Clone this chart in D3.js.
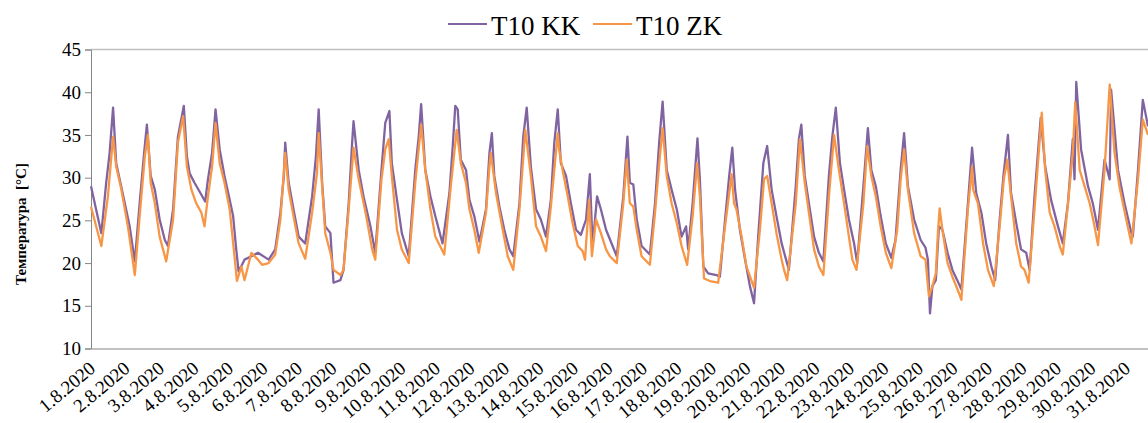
<!DOCTYPE html>
<head>
  <meta charset="utf-8">
  <script src="https://d3js.org/d3.v7.min.js"></script>
  <style>
    body { margin:0; background:#fff; }
  </style>
</head>
<body>
<script>
  // days since 1.8.2020 00:00 and temperature [°C]
  var tKK = [0,0.30,0.44,0.54,0.64,0.73,0.83,0.98,1.12,1.27,1.41,1.54,1.62,1.73,1.85,1.99,2.14,2.23,2.38,2.52,2.69,2.78,2.86,3.00,3.20,3.31,3.39,3.51,3.61,3.73,3.87,4.02,4.12,4.21,4.28,4.45,4.65,4.84,
    5.15,5.34,5.49,5.59,5.63,5.73,5.87,6.02,6.21,6.41,6.52,6.60,6.70,6.79,6.94,7.03,7.23,7.32,7.47,7.57,7.61,7.76,7.90,8.10,8.24,8.42,8.53,8.65,8.72,8.87,9.01,9.21,9.40,9.50,9.57,9.69,9.84,9.98,
    10.19,10.39,10.48,10.56,10.63,10.72,10.87,10.97,11.11,11.26,11.45,11.55,11.62,11.69,11.84,11.98,12.13,12.24,12.42,12.53,12.63,12.75,12.90,13.04,13.19,13.33,13.43,13.53,13.62,13.77,13.91,14.06,14.20,14.35,14.46,14.54,14.67,14.78,14.93,
    15.24,15.43,15.55,15.62,15.72,15.82,15.96,16.20,16.35,16.47,16.57,16.69,16.83,16.98,17.12,17.25,17.31,17.44,17.58,17.65,17.75,17.89,18.13,18.23,18.38,18.50,18.59,18.67,18.81,18.96,19.10,19.22,19.34,19.49,19.60,19.73,19.87,20.02,
    20.23,20.43,20.52,20.59,20.69,20.81,20.96,21.10,21.23,21.39,21.49,21.59,21.71,21.83,21.97,22.12,22.21,22.39,22.52,22.62,22.75,22.89,23.04,23.20,23.32,23.47,23.57,23.68,23.86,24.05,24.19,24.26,24.32,24.39,24.49,24.58,24.68,24.83,24.97,25.11,
    25.23,25.42,25.54,25.66,25.81,25.95,26.10,26.21,26.34,26.45,26.58,26.67,26.82,26.96,27.11,27.21,27.35,27.53,27.66,27.83,28.03,28.17,28.32,28.46,28.51,28.56,28.70,28.90,29.04,29.19,29.38,29.53,29.57,29.62,29.77,29.96,30.16,30.20,30.35,30.49,30.64]
  var kk = [29.0,23.5,29.4,32.9,38.2,31.7,29.8,27.0,24.3,20.2,27.0,32.9,36.2,30.2,28.6,25.1,22.7,22.0,26.3,34.8,38.4,32.5,30.5,29.4,28.0,27.2,29.8,32.9,38.0,33.3,30.2,27.4,25.5,21.6,19.0,20.4,20.8,21.2,
    20.4,21.6,25.9,30.2,34.1,29.4,26.3,23.1,22.3,27.8,32.5,38.0,29.4,24.3,23.5,17.7,18.0,19.2,27.0,34.1,36.6,30.9,27.8,24.3,21.2,30.9,36.4,37.8,31.7,27.4,23.5,20.8,30.9,34.8,38.6,30.9,27.8,25.5,
    22.3,28.2,33.3,38.4,38.0,32.1,30.9,27.4,25.5,22.5,26.3,32.9,35.2,30.2,26.6,23.9,21.6,20.8,27.0,34.8,38.2,31.3,26.3,25.1,23.1,27.4,34.1,38.0,31.7,30.2,27.0,23.9,23.3,25.1,30.4,22.0,27.8,26.3,23.9,
    20.8,27.8,34.8,29.4,29.2,25.1,22.0,21.0,27.0,34.1,38.9,30.9,28.6,26.3,23.1,24.3,21.6,27.0,34.6,29.8,19.6,18.8,18.6,18.4,25.1,30.2,33.5,28.6,23.9,20.4,17.3,15.3,23.1,31.7,33.7,28.6,25.5,22.3,
    19.2,29.0,34.5,36.2,30.2,27.0,23.1,21.2,20.2,30.2,34.8,38.2,31.7,28.6,25.1,22.3,20.0,29.0,35.8,30.9,29.0,25.5,22.3,20.6,22.7,30.9,35.2,29.0,25.1,22.7,21.8,20.4,14.1,17.3,18.0,24.3,23.9,21.2,19.2,18.0,
    16.9,27.0,33.5,28.2,25.9,22.3,19.6,18.0,25.1,30.2,35.0,28.2,24.7,21.6,21.2,19.2,27.8,37.0,31.3,27.4,24.3,22.3,27.0,34.5,29.8,41.2,33.3,29.0,27.0,23.9,32.1,29.8,40.3,38.0,30.9,27.0,23.5,23.1,30.9,39.1,36.0]

  var tZK = [0.00,0.30,0.49,0.64,0.73,0.88,1.07,1.27,1.41,1.56,1.65,1.73,1.85,1.99,2.18,2.38,2.52,2.67,2.78,2.91,3.05,3.20,3.29,3.39,3.51,3.61,3.73,3.87,4.02,4.16,4.23,4.36,4.45,4.65,4.84,
    4.96,5.15,5.34,5.49,5.63,5.73,5.87,6.02,6.21,6.41,6.55,6.60,6.70,6.79,6.94,7.03,7.23,7.32,7.47,7.61,7.76,7.96,8.15,8.24,8.42,8.53,8.63,8.72,8.87,9.01,9.21,9.40,9.57,9.69,9.84,9.98,
    10.24,10.43,10.60,10.72,10.87,10.97,11.11,11.24,11.45,11.55,11.59,11.74,11.88,12.08,12.24,12.42,12.59,12.75,12.90,13.04,13.19,13.33,13.53,13.57,13.67,13.82,13.96,14.11,14.25,14.32,14.44,14.52,14.64,14.78,14.93,
    15.04,15.24,15.43,15.53,15.62,15.72,15.82,15.96,16.20,16.35,16.49,16.57,16.69,16.83,16.98,17.12,17.28,17.44,17.57,17.65,17.77,17.94,18.18,18.38,18.57,18.64,18.71,18.86,19.00,19.22,19.39,19.51,19.60,19.73,19.87,20.02,
    20.09,20.18,20.43,20.55,20.69,20.81,20.96,21.10,21.23,21.39,21.54,21.68,21.83,21.97,22.07,22.19,22.39,22.50,22.62,22.75,22.89,23.04,23.20,23.37,23.47,23.57,23.68,23.86,24.05,24.19,24.29,24.39,24.49,24.55,24.60,24.68,24.83,24.97,25.16,
    25.23,25.42,25.54,25.57,25.71,25.86,26.00,26.17,26.34,26.46,26.56,26.67,26.82,26.96,27.06,27.18,27.35,27.56,27.66,27.79,27.93,28.08,28.17,28.32,28.46,28.53,28.66,28.80,28.95,29.09,29.19,29.38,29.53,29.67,29.81,30.01,30.16,30.35,30.49,30.64]
  var zk = [26.6,22.0,27.8,34.8,31.3,28.6,24.3,18.6,25.5,32.5,35.0,29.4,27.0,23.1,20.2,25.1,34.1,37.2,31.3,28.6,27.0,25.9,24.3,27.8,31.3,36.4,31.7,29.4,26.3,20.8,17.9,19.6,18.0,21.2,20.4,
    19.8,20.0,21.0,25.1,32.9,28.6,25.5,22.3,20.5,25.9,30.5,35.2,29.0,23.5,21.2,19.2,18.6,19.2,26.3,33.5,29.8,25.9,21.6,20.4,29.8,33.3,34.5,30.2,23.9,21.6,20.0,29.4,36.2,30.9,26.3,23.1,
    21.0,29.0,35.6,31.7,29.4,26.3,23.9,21.2,25.9,31.3,32.9,28.2,25.1,20.8,19.2,26.3,35.6,30.2,24.3,23.1,21.4,26.6,35.2,33.3,30.9,27.8,24.7,22.0,21.4,20.4,27.4,20.8,25.1,23.5,21.6,
    20.8,20.0,27.0,32.1,27.0,26.6,23.9,20.8,19.8,25.9,32.5,35.8,30.2,27.0,24.7,22.0,19.8,25.5,31.7,27.8,18.2,17.9,17.7,24.3,30.4,27.0,26.3,23.1,19.6,17.1,23.9,29.8,30.2,27.0,23.5,20.4,
    19.2,18.0,27.0,34.5,29.4,25.9,21.6,19.6,18.6,27.8,35.0,30.9,27.0,23.1,20.4,19.2,27.0,33.7,30.2,27.8,24.3,21.2,19.4,23.9,29.8,33.3,28.6,23.5,20.8,20.4,16.1,17.3,18.8,23.5,26.4,23.9,20.0,18.4,16.5,
    15.7,26.3,31.3,28.6,27.0,22.3,19.2,17.3,24.3,29.8,32.1,27.8,22.3,19.6,19.2,17.7,26.3,37.6,30.9,25.9,24.3,22.0,21.0,27.0,32.9,38.8,30.9,29.0,27.0,24.3,22.1,30.9,40.9,32.9,29.0,25.1,22.3,29.8,36.8,35.0]

  var dayLabels = d3.range(1, 32).map(function(d) { return d + ".8.2020"; })
  var yTicks = [10, 15, 20, 25, 30, 35, 40, 45]
  var seriesNames = ["T10 KK", "T10 ZK"]
  var colors = ["#8064A2", "#F79646"]

  var FONT = "Liberation Serif"
  var W = 1148, H = 423
  var mLeft = 91, mRight = 1148, mTop = 49.5, mBottom = 348.5

  var svg = d3.select("body").append("svg")
    .attr("width", W).attr("height", H)
    .style("font-family", FONT)

  var x = d3.scaleLinear().domain([0, 30.64]).range([mLeft, mRight])
  var y = d3.scaleLinear().domain([10, 45]).range([mBottom, mTop])

  // top border
  svg.append("line")
    .attr("x1", mLeft).attr("x2", mRight).attr("y1", mTop).attr("y2", mTop)
    .attr("stroke", "#bfbfbf").attr("stroke-width", 1.5)

  var yAxis = svg.append("g")
    .attr("transform", "translate(" + mLeft + ",0)")
    .call(d3.axisLeft(y).tickValues(yTicks).tickSize(6).tickPadding(4))
  yAxis.attr("font-family", null).attr("font-size", null)
  yAxis.select(".domain").attr("stroke", "#868686")
  yAxis.selectAll(".tick line").attr("stroke", "#868686")
  yAxis.selectAll("text")
    .style("font-family", FONT).style("font-size", "19px").style("fill", "#000")

  var xAxis = svg.append("g")
    .attr("transform", "translate(0," + mBottom + ")")
    .call(d3.axisBottom(x).tickValues(d3.range(0, 31)).tickSize(0)
      .tickFormat(function(d) { return dayLabels[d]; }))
  xAxis.attr("font-family", null).attr("font-size", null)
  xAxis.select(".domain").attr("stroke", "#868686")
  xAxis.selectAll("text")
    .style("font-family", FONT).style("font-size", "19px").style("fill", "#000")
    .attr("text-anchor", "end")
    .attr("dy", null)
    .attr("y", 0)
    .attr("transform", "translate(5,22) rotate(-40)")

  var line = d3.line()
    .x(function(d) { return x(d[0]); })
    .y(function(d) { return y(d[1]); })

  svg.append("path")
    .datum(d3.zip(tKK, kk))
    .attr("d", line)
    .attr("fill", "none").attr("stroke", colors[0]).attr("stroke-width", 2.3)
    .attr("stroke-linejoin", "round")

  svg.append("path")
    .datum(d3.zip(tZK, zk))
    .attr("d", line)
    .attr("fill", "none").attr("stroke", colors[1]).attr("stroke-width", 2.3)
    .attr("stroke-linejoin", "round")

  // y title
  svg.append("text")
    .attr("transform", "translate(26,224) rotate(-90)")
    .attr("text-anchor", "middle")
    .style("font-family", FONT).style("font-size", "15px").style("font-weight", "bold")
    .style("white-space", "pre")
    .text("Температура  [°C]")

  // legend
  var legX = [448, 593]
  seriesNames.forEach(function(name, i) {
    svg.append("line")
      .attr("x1", legX[i]).attr("x2", legX[i] + 39)
      .attr("y1", 24).attr("y2", 24)
      .attr("stroke", colors[i]).attr("stroke-width", 2)
    svg.append("text")
      .attr("x", legX[i] + 43).attr("y", 35)
      .style("font-family", FONT).style("font-size", "27px")
      .text(name)
  })
</script>
</body>
